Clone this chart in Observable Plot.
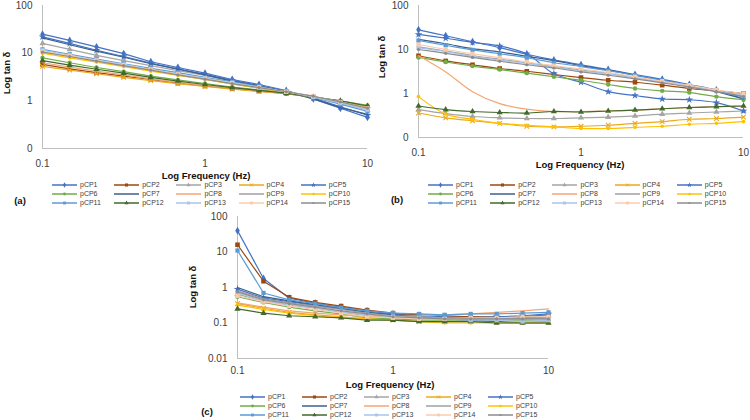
<!DOCTYPE html>
<html>
<head>
<meta charset="utf-8">
<script src="https://cdn.jsdelivr.net/npm/d3@7"></script>
<script src="https://cdn.jsdelivr.net/npm/@observablehq/plot@0.6"></script>
<style>
  body { margin: 0; background: #fff; font-family: "Liberation Sans", Arial, sans-serif; }
  #page { position: relative; width: 750px; height: 420px; overflow: hidden; background: #fff; }
  .abs { position: absolute; }
  .ttl { font-weight: bold; font-size: 9.5px; color: #111; white-space: nowrap; transform: translate(-50%, -50%); }
  .ylab { font-weight: bold; font-size: 9.5px; color: #111; white-space: nowrap; transform: translate(-50%, -50%) rotate(-90deg); }
  .tag { font-weight: bold; font-size: 9.5px; color: #111; transform: translate(-50%, -50%); }
  .lg { font-size: 7px; color: #404040; white-space: nowrap; line-height: 8px; }
</style>
</head>
<body>
<div id="page"></div>
<script>
// Frequencies (Hz), six points per decade
const freq = [0.1, 0.147, 0.215, 0.316, 0.464, 0.681, 1, 1.47, 2.15, 3.16, 4.64, 6.81, 10];

const series = ["pCP1", "pCP2", "pCP3", "pCP4", "pCP5", "pCP6", "pCP7", "pCP8",
                "pCP9", "pCP10", "pCP11", "pCP12", "pCP13", "pCP14", "pCP15"];

// tan δ per sample, one row per series, for panel (a)
const panelA = [
  [25, 18.5, 13.5, 9.8, 6.6, 5.0, 3.8, 2.8, 2.2, 1.65, 1.1, 0.7, 0.45],
  [5.8, 4.7, 3.9, 3.3, 2.8, 2.35, 2.05, 1.8, 1.6, 1.42, 1.2, 0.95, 0.7],
  [16, 12, 9, 7, 5.5, 4.3, 3.4, 2.6, 2.0, 1.6, 1.2, 0.9, 0.65],
  [5.3, 4.4, 3.7, 3.1, 2.65, 2.3, 2.0, 1.75, 1.58, 1.42, 1.2, 0.95, 0.7],
  [22, 16, 11.5, 8.5, 6.2, 4.7, 3.6, 2.7, 2.1, 1.6, 1.15, 0.75, 0.5],
  [8, 6.3, 5, 4.1, 3.3, 2.75, 2.3, 1.95, 1.7, 1.45, 1.2, 1.0, 0.8],
  [21, 15, 11, 8.2, 6, 4.6, 3.5, 2.6, 2.05, 1.55, 1.1, 0.72, 0.52],
  [6.3, 5.1, 4.2, 3.5, 2.9, 2.45, 2.1, 1.85, 1.6, 1.45, 1.2, 0.95, 0.75],
  [11, 8.6, 6.9, 5.5, 4.4, 3.5, 2.8, 2.3, 1.85, 1.5, 1.25, 0.95, 0.7],
  [10, 8, 6.5, 5.2, 4.2, 3.4, 2.8, 2.25, 1.85, 1.5, 1.2, 0.95, 0.7],
  [12, 9.5, 7.5, 6, 4.8, 3.9, 3.1, 2.5, 2.0, 1.55, 1.2, 0.85, 0.6],
  [7, 5.6, 4.6, 3.8, 3.1, 2.6, 2.2, 1.9, 1.65, 1.45, 1.2, 1.0, 0.78],
  [11.5, 9, 7.2, 5.8, 4.6, 3.7, 3.0, 2.4, 1.95, 1.55, 1.2, 0.9, 0.65],
  [11, 8.8, 7, 5.6, 4.5, 3.6, 2.9, 2.35, 1.9, 1.55, 1.25, 0.95, 0.7],
  [10.5, 8.5, 6.8, 5.5, 4.4, 3.5, 2.85, 2.3, 1.9, 1.55, 1.25, 0.95, 0.7]
];

// tan δ per sample for panel (b)
const panelB = [
  [28, 20.5, 15, 11, 7.8, 5.8, 4.5, 3.5, 2.7, 2.1, 1.6, 1.2, 0.75],
  [7.2, 5.5, 4.5, 3.7, 3.2, 2.7, 2.3, 2.0, 1.8, 1.55, 1.3, 1.15, 1.0],
  [0.43, 0.35, 0.3, 0.28, 0.27, 0.27, 0.28, 0.29, 0.31, 0.34, 0.36, 0.38, 0.4],
  [0.36, 0.28, 0.24, 0.21, 0.18, 0.175, 0.18, 0.19, 0.21, 0.23, 0.26, 0.27, 0.29],
  [22, 18, 14.5, 12, 8, 2.8, 1.8, 1.1, 0.9, 0.75, 0.72, 0.62, 0.4],
  [6.6, 5.2, 4.2, 3.5, 2.9, 2.4, 2.0, 1.6, 1.3, 1.15, 1.05, 0.85, 0.72],
  [17, 13.5, 10.5, 8.8, 7, 5.6, 4.3, 3.4, 2.6, 2.0, 1.5, 1.1, 0.75],
  [7.2, 3.1, 1.1, 0.59, 0.44, 0.39, 0.39, 0.4, 0.42, 0.45, 0.48, 0.5, 0.52],
  [11.5, 9.2, 7.3, 6, 5, 4.1, 3.4, 2.85, 2.3, 1.85, 1.5, 1.15, 0.9],
  [0.85, 0.34, 0.26, 0.21, 0.19, 0.175, 0.16, 0.16, 0.17, 0.18, 0.2, 0.21, 0.23],
  [16, 12.5, 9.8, 8, 6.5, 5, 4.1, 3.3, 2.6, 2.0, 1.5, 1.15, 0.85],
  [0.52, 0.43, 0.39, 0.37, 0.36, 0.39, 0.38, 0.4, 0.42, 0.45, 0.48, 0.5, 0.52],
  [11, 9, 7, 5.8, 4.8, 4.0, 3.3, 2.8, 2.3, 1.85, 1.45, 1.15, 0.9],
  [13, 10, 8, 6.5, 5.2, 4.3, 3.6, 3.0, 2.4, 1.9, 1.55, 1.2, 1.0],
  [10, 8.2, 6.6, 5.4, 4.5, 3.8, 3.1, 2.6, 2.15, 1.75, 1.4, 1.1, 0.85]
];

// tan δ per sample for panel (c)
const panelC = [
  [40, 1.8, 0.5, 0.36, 0.28, 0.22, 0.18, 0.16, 0.15, 0.15, 0.14, 0.14, 0.14],
  [16, 1.5, 0.53, 0.38, 0.3, 0.23, 0.19, 0.17, 0.16, 0.15, 0.15, 0.15, 0.17],
  [0.65, 0.4, 0.32, 0.26, 0.2, 0.16, 0.14, 0.13, 0.13, 0.13, 0.14, 0.15, 0.16],
  [0.35, 0.26, 0.2, 0.17, 0.15, 0.13, 0.12, 0.11, 0.11, 0.11, 0.11, 0.11, 0.11],
  [0.9, 0.5, 0.4, 0.31, 0.25, 0.2, 0.17, 0.15, 0.14, 0.14, 0.15, 0.16, 0.18],
  [0.55, 0.38, 0.28, 0.22, 0.18, 0.14, 0.13, 0.12, 0.12, 0.12, 0.12, 0.12, 0.12],
  [1.0, 0.55, 0.42, 0.33, 0.26, 0.2, 0.17, 0.15, 0.13, 0.12, 0.11, 0.1, 0.1],
  [0.37, 0.28, 0.22, 0.19, 0.17, 0.15, 0.15, 0.16, 0.17, 0.18, 0.2, 0.22, 0.25],
  [0.8, 0.48, 0.37, 0.3, 0.24, 0.19, 0.16, 0.15, 0.14, 0.13, 0.13, 0.13, 0.14],
  [0.32, 0.24, 0.19, 0.16, 0.14, 0.13, 0.12, 0.11, 0.1, 0.1, 0.1, 0.1, 0.1],
  [11, 0.7, 0.45, 0.35, 0.27, 0.22, 0.19, 0.18, 0.17, 0.18, 0.18, 0.19, 0.2],
  [0.25, 0.19, 0.16, 0.15, 0.14, 0.12, 0.12, 0.11, 0.11, 0.11, 0.1, 0.1, 0.1],
  [0.7, 0.42, 0.33, 0.27, 0.21, 0.17, 0.15, 0.14, 0.13, 0.12, 0.12, 0.11, 0.12],
  [0.58, 0.4, 0.3, 0.24, 0.19, 0.15, 0.14, 0.13, 0.13, 0.14, 0.14, 0.15, 0.15],
  [0.75, 0.45, 0.35, 0.28, 0.22, 0.18, 0.15, 0.14, 0.13, 0.13, 0.13, 0.13, 0.13]
];

// Look of each series: colour, marker symbol (null = plain line) and marker radius
const seriesStyle = [
  {color: "#4472C4", symbol: "diamond", r: 2.4},
  {color: "#9E480E", symbol: "square", r: 2.6},
  {color: "#A5A5A5", symbol: "triangle", r: 2.3},
  {color: "#EBA91B", symbol: "times", r: 2.2},
  {color: "#4472C4", symbol: "star", r: 2.4},
  {color: "#70AD47", symbol: "circle", r: 2.2},
  {color: "#3B5F8E", symbol: null, r: 0},
  {color: "#F4A672", symbol: null, r: 0},
  {color: "#A0A0A0", symbol: null, r: 0},
  {color: "#FFC000", symbol: "circle", r: 1.8},
  {color: "#5B9BD5", symbol: "square", r: 2.4},
  {color: "#43682B", symbol: "triangle", r: 2.3},
  {color: "#A9C4EB", symbol: "square", r: 2.4},
  {color: "#F8CBAD", symbol: "square", r: 2.4},
  {color: "#8C8C8C", symbol: "circle", r: 1.6}
];

const page = document.getElementById("page");
const strokeSymbols = new Set(["times", "plus", "asterisk"]);

function panel(values, cfg) {
  const marks = [
    Plot.ruleX([0.1], {stroke: "#BFBFBF", strokeWidth: 1}),
    Plot.ruleY([cfg.yDomain[0]], {stroke: "#BFBFBF", strokeWidth: 1})
  ];
  series.forEach((name, i) => {
    const st = seriesStyle[i];
    const d = freq.map((f, j) => ({series: name, freq: f, tan: values[i][j]}));
    marks.push(Plot.line(d, {x: "freq", y: "tan", stroke: st.color, strokeWidth: 1.2, curve: cfg.curve}));
    if (st.symbol) {
      const stroked = strokeSymbols.has(st.symbol);
      marks.push(Plot.dot(d, {
        x: "freq", y: "tan", symbol: st.symbol, r: st.r,
        fill: stroked ? "none" : st.color,
        stroke: stroked ? st.color : "none",
        strokeWidth: stroked ? 1.1 : 0
      }));
    }
  });
  const chart = Plot.plot({
    width: cfg.width, height: cfg.height,
    marginLeft: cfg.ml, marginRight: cfg.mr, marginTop: cfg.mt, marginBottom: cfg.mb,
    style: {fontFamily: '"Liberation Sans", Arial, sans-serif', fontSize: "10px", color: "#404040", background: "transparent", overflow: "visible"},
    x: {type: "log", domain: [0.1, 10], ticks: [0.1, 1, 10], tickFormat: d => String(d), tickSize: 0, tickPadding: cfg.xPad, label: null},
    y: {type: "log", domain: cfg.yDomain, ticks: cfg.yTicks, tickFormat: cfg.yFormat, tickSize: 0, tickPadding: 10, label: null},
    marks
  });
  chart.style.position = "absolute";
  chart.style.left = cfg.left + "px";
  chart.style.top = cfg.top + "px";
  page.appendChild(chart);
}

function addText(cls, text, x, y) {
  const el = document.createElement("div");
  el.className = "abs " + cls;
  el.textContent = text;
  el.style.left = x + "px";
  el.style.top = y + "px";
  page.appendChild(el);
}

const symbolTypes = {
  diamond: d3.symbolDiamond, square: d3.symbolSquare, triangle: d3.symbolTriangle,
  times: d3.symbolTimes, star: d3.symbolStar, circle: d3.symbolCircle
};

// Legend: 5 columns x 3 rows of line-and-marker swatches
function legend(x0, y0, pitch, rowGap) {
  series.forEach((name, i) => {
    const st = seriesStyle[i];
    const x = x0 + (i % 5) * pitch;
    const y = y0 + Math.floor(i / 5) * rowGap;
    const svg = d3.create("svg").attr("width", 26).attr("height", 8)
      .style("position", "absolute").style("left", x + "px").style("top", (y - 4) + "px");
    svg.append("line").attr("x1", 0).attr("x2", 25).attr("y1", 4).attr("y2", 4)
      .attr("stroke", st.color).attr("stroke-width", 1.5);
    if (st.symbol) {
      const stroked = strokeSymbols.has(st.symbol);
      svg.append("path")
        .attr("transform", "translate(12.5,4)")
        .attr("d", d3.symbol(symbolTypes[st.symbol], Math.PI * st.r * st.r * 0.45)())
        .attr("fill", stroked ? "none" : st.color)
        .attr("stroke", stroked ? st.color : "none");
    }
    page.appendChild(svg.node());
    const t = document.createElement("div");
    t.className = "abs lg";
    t.textContent = name;
    t.style.left = (x + 28) + "px";
    t.style.top = (y - 4) + "px";
    page.appendChild(t);
  });
}

const fmtTop = d => d < 1 ? "0" : String(d);
const fmtC = d => String(d);

// (a)
panel(panelA, {left: 0, top: 0, width: 375, height: 180, ml: 42, mr: 8, mt: 5, mb: 32, xPad: 11,
  yDomain: [0.1, 100], yTicks: [0.1, 1, 10, 100], yFormat: fmtTop, curve: "linear"});
addText("ttl", "Log Frequency (Hz)", 206, 175);
addText("ylab", "Log tan δ", 6, 73);
addText("tag", "(a)", 20, 200);
legend(52, 185, 62.2, 9);

// (b)
panel(panelB, {left: 375, top: 0, width: 375, height: 180, ml: 43, mr: 7, mt: 5, mb: 43, xPad: 11,
  yDomain: [0.1, 100], yTicks: [0.1, 1, 10, 100], yFormat: fmtTop, curve: "catmull-rom"});
addText("ttl", "Log Frequency (Hz)", 580, 164);
addText("ylab", "Log tan δ", 381, 57);
addText("tag", "(b)", 397, 199);
legend(428, 185, 62.2, 9);

// (c)
panel(panelC, {left: 150, top: 200, width: 420, height: 195, ml: 87, mr: 22, mt: 16, mb: 37, xPad: 8,
  yDomain: [0.01, 100], yTicks: [0.01, 0.1, 1, 10, 100], yFormat: fmtC, curve: "linear"});
addText("ttl", "Log Frequency (Hz)", 390, 384);
addText("ylab", "Log tan δ", 192, 287);
addText("tag", "(c)", 207, 411);
legend(240, 397, 62, 9.2);
</script>
</body>
</html>
